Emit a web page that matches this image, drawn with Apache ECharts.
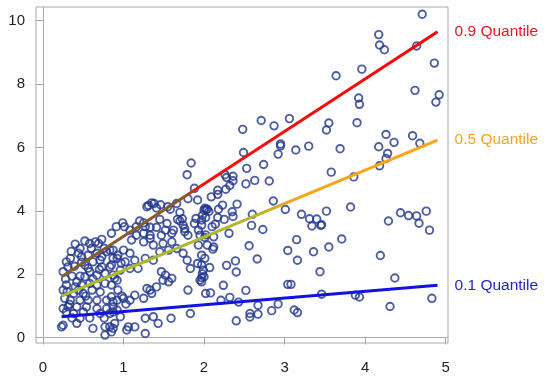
<!DOCTYPE html>
<html>
<head>
<meta charset="utf-8">
<script src="https://cdn.jsdelivr.net/npm/echarts@6/dist/echarts.min.js"></script>
<style>html,body{margin:0;padding:0;background:#fff}#c{width:550px;height:380px}</style>
</head>
<body>
<div id="c"></div>
<script>
// Axis tick values
const xTicks = [0, 1, 2, 3, 4, 5];
const yTicks = [0, 2, 4, 6, 8, 10];

const pointsRight = [
  [4.71,10.2],[4.17,9.56],[4.18,9.23],[4.24,9.08],[4.64,9.2],[4.86,8.66],[3.64,8.26],[3.96,8.47],
  [4.62,7.80],[4.92,7.66],[4.88,7.43],[3.92,7.56],[3.93,7.36],[3.55,6.77],[3.52,6.55],[3.90,6.78],
  [4.26,6.41],[4.59,6.37],[4.36,6.16],[4.68,6.13],[3.69,5.96],[4.17,6.02],[4.28,5.81],[4.26,5.65],
  [4.18,5.42],[3.58,5.22],[3.86,5.07],
  [3.52,3.99],[3.82,4.12],[3.46,3.56],[4.44,3.94],[4.54,3.85],[4.64,3.84],[4.76,3.99],[4.29,3.68],
  [4.67,3.61],[4.80,3.39],[3.71,3.11],[3.55,2.86],[4.19,2.59],[3.44,2.08],[4.37,1.88],[3.46,1.37],
  [3.88,1.34],[3.93,1.28],[4.83,1.24],[4.31,0.98]
];
const pointsMiddle = [
  [2.48,6.57],[2.71,6.85],[2.87,6.68],[3.06,6.91],[2.49,5.84],[2.95,6.11],[2.95,6.05],[2.92,5.79],
  [3.14,5.92],[3.30,6.04],[2.53,5.34],[2.74,5.46],[2.26,5.14],[2.28,5.05],[2.36,5.09],[2.36,4.95],
  [2.32,4.80],[2.63,4.96],[2.52,4.85],[2.81,4.94],[2.27,4.68],[2.17,4.65],[2.17,4.52],[2.09,4.44],
  [2.23,4.18],[2.41,4.21],[2.35,3.97],[2.36,3.82],[2.18,4.05],[2.01,4.08],[2.03,4.04],[1.98,3.86],
  [1.97,3.71],[2.86,4.31],[3.01,4.04],[3.21,3.89],[3.31,3.75],[3.40,3.74],[3.34,3.52],[3.45,3.54],
  [2.60,3.89],[2.59,3.54],[2.73,3.41],[2.25,3.73],[2.14,3.58],[2.31,3.29],[2.02,3.24],[3.15,3.09],
  [2.12,2.86],[2.11,2.79],[2.56,2.90],[3.04,2.75],[3.36,2.71],[2.66,2.48],[3.16,2.44],[2.39,2.42],
  [2.28,2.28],[2.07,2.21],[2.40,2.07],[1.97,2.30],[1.98,2.01],[1.97,1.89],[2.00,1.92],[2.24,1.65],
  [3.04,1.68],[3.08,1.68],[2.52,1.49],[2.02,1.39],[2.08,1.41],[2.32,1.27],[2.21,1.18],[2.43,1.12],
  [2.67,1.02],[2.92,1.06],[2.84,0.85],[2.67,0.74],[2.57,0.76],[2.57,0.65],[3.12,0.87],[3.16,0.79],
  [2.40,0.53]
];
const pointsUpperCluster = [
  [1.84,5.51],[1.79,5.14],[1.88,4.71],[1.92,4.34],[1.80,4.38],[1.31,4.17],[1.35,4.25],[1.38,4.23],
  [1.41,4.09],[1.29,4.13],[1.46,4.19],[1.55,4.13],[1.58,4.05],[1.66,4.23],[1.70,3.95],[1.67,3.73],
  [1.70,3.68],[1.73,3.75],[1.74,3.55],[1.76,3.44],[1.90,3.76],[1.88,3.60],[1.97,3.55],[2.00,4.02],
  [2.04,4.05],[2.06,3.98],[2.02,3.79],[1.93,3.39],[2.10,3.50],[2.17,3.79],[2.12,3.18],
  [1.20,3.68],[1.25,3.62],[1.16,3.50],[1.27,3.50],[1.33,3.48],[1.45,3.73],[1.41,3.48],[1.54,3.60],
  [1.52,3.39],[1.60,3.29],[1.47,3.23],[1.25,3.29],[1.33,3.23],[1.16,3.23],[1.62,3.39],[1.76,3.34],
  [1.80,3.23],[1.95,3.23],[2.01,3.16]
];
const pointsMidCluster = [
  [0.91,3.50],[0.99,3.62],[1.01,3.50],[1.08,3.39],[1.10,3.08],[1.25,3.02],[1.33,3.13],[1.37,2.92],
  [1.49,2.97],[1.56,2.76],[1.45,2.71],[1.60,3.02],[1.66,2.81],[1.74,2.66],[1.79,2.44],[1.83,2.18],
  [1.92,2.34],[1.97,2.60],[2.01,2.50],[1.93,2.92],[2.04,2.92],[1.99,2.13],[1.97,1.76],[1.95,1.81],
  [0.87,2.76],[1.00,2.76],[1.08,2.66],[0.92,2.50],[1.02,2.39],[1.14,2.44],[1.27,2.50],[1.37,2.44],
  [1.18,2.18],[1.08,2.18],[0.96,2.13],[0.89,1.87],[0.85,2.29],
  [1.47,2.08],[1.52,1.97],[1.56,1.76],[1.60,1.87],[1.49,1.81],[1.41,1.60],[1.33,1.50],[1.35,1.39],
  [1.29,1.55],[1.25,1.24],[1.14,1.34],[1.08,1.18],[1.00,1.24],[0.92,1.18],[0.87,0.97],[0.85,1.29],
  [1.80,1.50],[1.83,0.76],[1.59,0.61],[1.37,0.66],[1.43,0.45],[1.27,0.61],[1.14,0.34],[1.06,0.34],
  [1.04,0.24],[1.27,0.13],[0.87,0.81],[0.96,0.66],[0.89,0.45],[0.87,0.29]
];
const pointsLeftCluster = [
  [0.85,3.29],[0.73,3.10],[0.65,3.02],[0.69,2.97],[0.58,2.97],[0.60,2.81],[0.46,2.81],[0.44,2.66],
  [0.29,2.39],[0.31,2.23],[0.25,2.08],
  [0.56,2.60],[0.67,2.66],[0.73,2.55],[0.79,2.71],[0.87,2.50],[0.62,2.39],[0.52,2.29],[0.73,2.23],
  [0.83,2.23],[0.58,2.08],[0.67,1.97],[0.77,2.02],[0.87,1.97],[0.52,1.92],[0.42,1.76],[0.48,1.66],
  [0.58,1.71],[0.67,1.66],[0.77,1.71],[0.85,1.66],[0.92,1.81],
  [0.25,1.50],[0.27,1.24],[0.38,1.39],[0.50,1.39],[0.46,1.18],[0.56,1.18],[0.67,1.18],[0.79,1.18],
  [0.87,1.13],[0.31,0.97],[0.42,0.97],[0.54,0.97],[0.67,0.92],[0.79,0.92],[0.25,0.92],[0.38,0.76],
  [0.50,0.81],[0.71,0.76],[0.83,0.76],[0.92,0.87],
  [0.25,0.39],[0.23,0.34],[0.42,0.45],[0.46,0.61],[0.62,0.29],[0.77,0.34],[0.83,0.34],[0.77,0.08],
  [0.85,0.18],
  [0.34,2.50],[0.39,2.25],[0.48,2.38],[0.56,2.19],[0.71,2.44],[0.76,2.82],[0.83,2.76],[0.93,2.60],
  [0.97,2.35],[0.61,1.50],[0.71,1.44],[0.53,1.31],[0.34,1.18],[0.29,1.66],[0.36,1.94],[0.46,1.94],
  [0.93,1.50],[0.98,1.31],[1.03,1.06],[0.76,0.62],[0.58,0.62],[0.36,0.62],[0.29,0.81],
  [0.40,2.95],[0.35,2.72],[0.52,3.05],[0.48,2.55],
  [0.30,1.45],[0.33,1.05],[0.40,1.60],[0.44,1.50],[0.28,1.85],[0.62,1.85],[0.70,2.15]
];

// Quantile regression lines (end points)
const q90 = [[0.23,1.92],[4.90,9.65]];
const q50 = [[0.23,1.31],[4.90,6.23]];
const q10 = [[0.23,0.66],[4.90,1.65]];

const points = [].concat(pointsRight, pointsMiddle, pointsUpperCluster, pointsMidCluster, pointsLeftCluster);

const axisColor = '#a9a9a9';
const font = 'Liberation Sans, Arial, sans-serif';

function grad(stops) {
  return new echarts.graphic.LinearGradient(0, 0, 1, 0, stops);
}

const chart = echarts.init(document.getElementById('c'), null, {renderer: 'canvas'});
chart.setOption({
  animation: false,
  backgroundColor: '#fff',
  grid: {left: 36, right: 102, top: 7, bottom: 37, show: true, borderColor: axisColor, borderWidth: 1},
  xAxis: {
    type: 'value', min: -0.087, max: 5.03,
    axisLine: {show: true, lineStyle: {color: axisColor, width: 1}},
    axisTick: {show: true, length: 7, lineStyle: {color: axisColor}, customValues: xTicks},
    axisLabel: {customValues: xTicks, color: '#222', fontSize: 15, fontFamily: font, margin: 17},
    splitLine: {show: false}
  },
  yAxis: {
    type: 'value', min: -0.17, max: 10.43,
    axisLine: {show: true, lineStyle: {color: axisColor, width: 1}},
    axisTick: {show: true, length: 7, lineStyle: {color: axisColor}, customValues: yTicks},
    axisLabel: {customValues: yTicks, color: '#222', fontSize: 15, fontFamily: font, margin: 11},
    splitLine: {show: false}
  },
  series: [
    {
      type: 'scatter', data: points, symbol: 'circle', symbolSize: 7.5,
      itemStyle: {color: 'rgba(255,255,255,0)', borderColor: '#22368e', borderWidth: 1.9},
      z: 2
    },
    {
      type: 'line', name: '0.9 Quantile', data: q90, symbol: 'none', z: 5,
      lineStyle: {width: 3, color: grad([{offset: 0, color: '#84602c'}, {offset: 0.33, color: '#8a582a'}, {offset: 0.37, color: '#f51212'}, {offset: 1, color: '#ff0000'}])},
      endLabel: {show: true, formatter: '0.9 Quantile', color: '#f2141e', fontSize: 15.5, fontFamily: font, distance: 17}
    },
    {
      type: 'line', name: '0.5 Quantile', data: q50, symbol: 'none', z: 5,
      lineStyle: {width: 3, color: grad([{offset: 0, color: '#a8be2a'}, {offset: 0.5, color: '#b4b628'}, {offset: 0.63, color: '#f9a418'}, {offset: 1, color: '#ffa510'}])},
      endLabel: {show: true, formatter: '0.5 Quantile', color: '#f6a21e', fontSize: 15.5, fontFamily: font, distance: 17}
    },
    {
      type: 'line', name: '0.1 Quantile', data: q10, symbol: 'none', z: 5,
      lineStyle: {width: 3, color: '#1212e2'},
      endLabel: {show: true, formatter: '0.1 Quantile', color: '#1e1ed6', fontSize: 15.5, fontFamily: font, distance: 17}
    }
  ]
});
</script>
</body>
</html>
